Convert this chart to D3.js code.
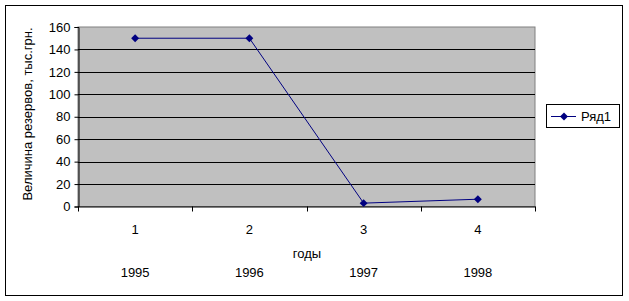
<!DOCTYPE html>
<meta charset="utf-8">
<head>
<script src="https://cdn.jsdelivr.net/npm/d3@7"></script>
<style>
  body { margin: 0; background: #fff; }
  text { font-family: "Liberation Sans", Arial, sans-serif; font-size: 13px; fill: #000; }
</style>
</head>
<body>
<script>
// данные
var categories = ["1", "2", "3", "4"];
var years = ["1995", "1996", "1997", "1998"];
var values = [150, 150, 3, 6.5];
var yTicks = [0, 20, 40, 60, 80, 100, 120, 140, 160];
var seriesName = "Ряд1";

var W = 629, H = 301;
var plot = {left: 78, top: 27, right: 535, bottom: 206.5};

var svg = d3.select("body").append("svg")
  .attr("width", W).attr("height", H);

// рамка диаграммы
svg.append("rect")
  .attr("x", 5.5).attr("y", 5.5)
  .attr("width", 617).attr("height", 290)
  .attr("fill", "#fff").attr("stroke", "#000").attr("stroke-width", 1);

var x = d3.scaleBand().domain(categories).range([plot.left, plot.right]);
var y = d3.scaleLinear().domain([0, 160]).range([plot.bottom, plot.top]);

// фон области построения
svg.append("rect")
  .attr("x", plot.left).attr("y", plot.top)
  .attr("width", plot.right - plot.left).attr("height", plot.bottom - plot.top)
  .attr("fill", "#c0c0c0").attr("stroke", "#808080");

// линии сетки
svg.append("g").selectAll("line")
  .data(yTicks.filter(function(d){ return d > 0 && d < 160; }))
  .enter().append("line")
  .attr("x1", plot.left).attr("x2", plot.right)
  .attr("y1", function(d){ return Math.round(y(d)) + 0.5; })
  .attr("y2", function(d){ return Math.round(y(d)) + 0.5; })
  .attr("stroke", "#000");

// ось Y
var yAxis = d3.axisLeft(y).tickValues(yTicks).tickSize(4).tickPadding(4);
svg.append("g")
  .attr("transform", "translate(" + (plot.left + 0.5) + ",0)")
  .call(yAxis)
  .call(function(g){
    g.select(".domain").attr("stroke", "#000");
    g.selectAll("line").attr("stroke", "#000");
    g.selectAll("text").style("font-size", "13px").attr("fill", "#000");
  });

// ось X
var xAxis = d3.axisBottom(x).tickSize(0).tickPadding(18);
var gx = svg.append("g")
  .attr("transform", "translate(0," + (plot.bottom) + ")")
  .call(xAxis)
  .call(function(g){
    g.select(".domain").attr("stroke", "#000");
    g.selectAll("text").style("font-size", "13px").attr("fill", "#000");
  });

// засечки между категориями
svg.append("g").selectAll("line")
  .data(categories.concat(["end"]))
  .enter().append("line")
  .attr("x1", function(d, i){ return Math.round(plot.left + i * x.bandwidth()) + 0.5; })
  .attr("x2", function(d, i){ return Math.round(plot.left + i * x.bandwidth()) + 0.5; })
  .attr("y1", plot.bottom).attr("y2", plot.bottom + 5)
  .attr("stroke", "#000");

// годы
svg.append("g").selectAll("text")
  .data(years).enter().append("text")
  .attr("x", function(d, i){ return x(categories[i]) + x.bandwidth() / 2; })
  .attr("y", 277)
  .attr("text-anchor", "middle")
  .text(function(d){ return d; });

// подписи осей
svg.append("text")
  .attr("x", 307).attr("y", 258)
  .attr("text-anchor", "middle")
  .text("годы");

svg.append("text")
  .attr("transform", "translate(32,114) rotate(-90)")
  .attr("text-anchor", "middle")
  .text("Величина резервов, тыс.грн.");

// линия ряда
var line = d3.line()
  .x(function(d, i){ return x(categories[i]) + x.bandwidth() / 2; })
  .y(function(d){ return y(d); });

svg.append("path")
  .datum(values)
  .attr("d", line)
  .attr("fill", "none")
  .attr("stroke", "#000080")
  .attr("stroke-width", 1);

var diamond = d3.symbol().type(d3.symbolDiamond2).size(40);
svg.append("g").selectAll("path")
  .data(values).enter().append("path")
  .attr("d", diamond)
  .attr("transform", function(d, i){
    return "translate(" + (x(categories[i]) + x.bandwidth() / 2) + "," + y(d) + ")";
  })
  .attr("fill", "#000080");

// легенда
var lg = svg.append("g").attr("transform", "translate(546,104)");
lg.append("rect")
  .attr("x", 0.5).attr("y", 0.5).attr("width", 73).attr("height", 23)
  .attr("fill", "#fff").attr("stroke", "#000");
lg.append("line")
  .attr("x1", 5).attr("x2", 30).attr("y1", 12.5).attr("y2", 12.5)
  .attr("stroke", "#000080");
lg.append("path")
  .attr("d", diamond)
  .attr("transform", "translate(18,12.5)")
  .attr("fill", "#000080");
lg.append("text")
  .attr("x", 35).attr("y", 17)
  .attr("font-size", "14px")
  .text(seriesName);
</script>
</body>
